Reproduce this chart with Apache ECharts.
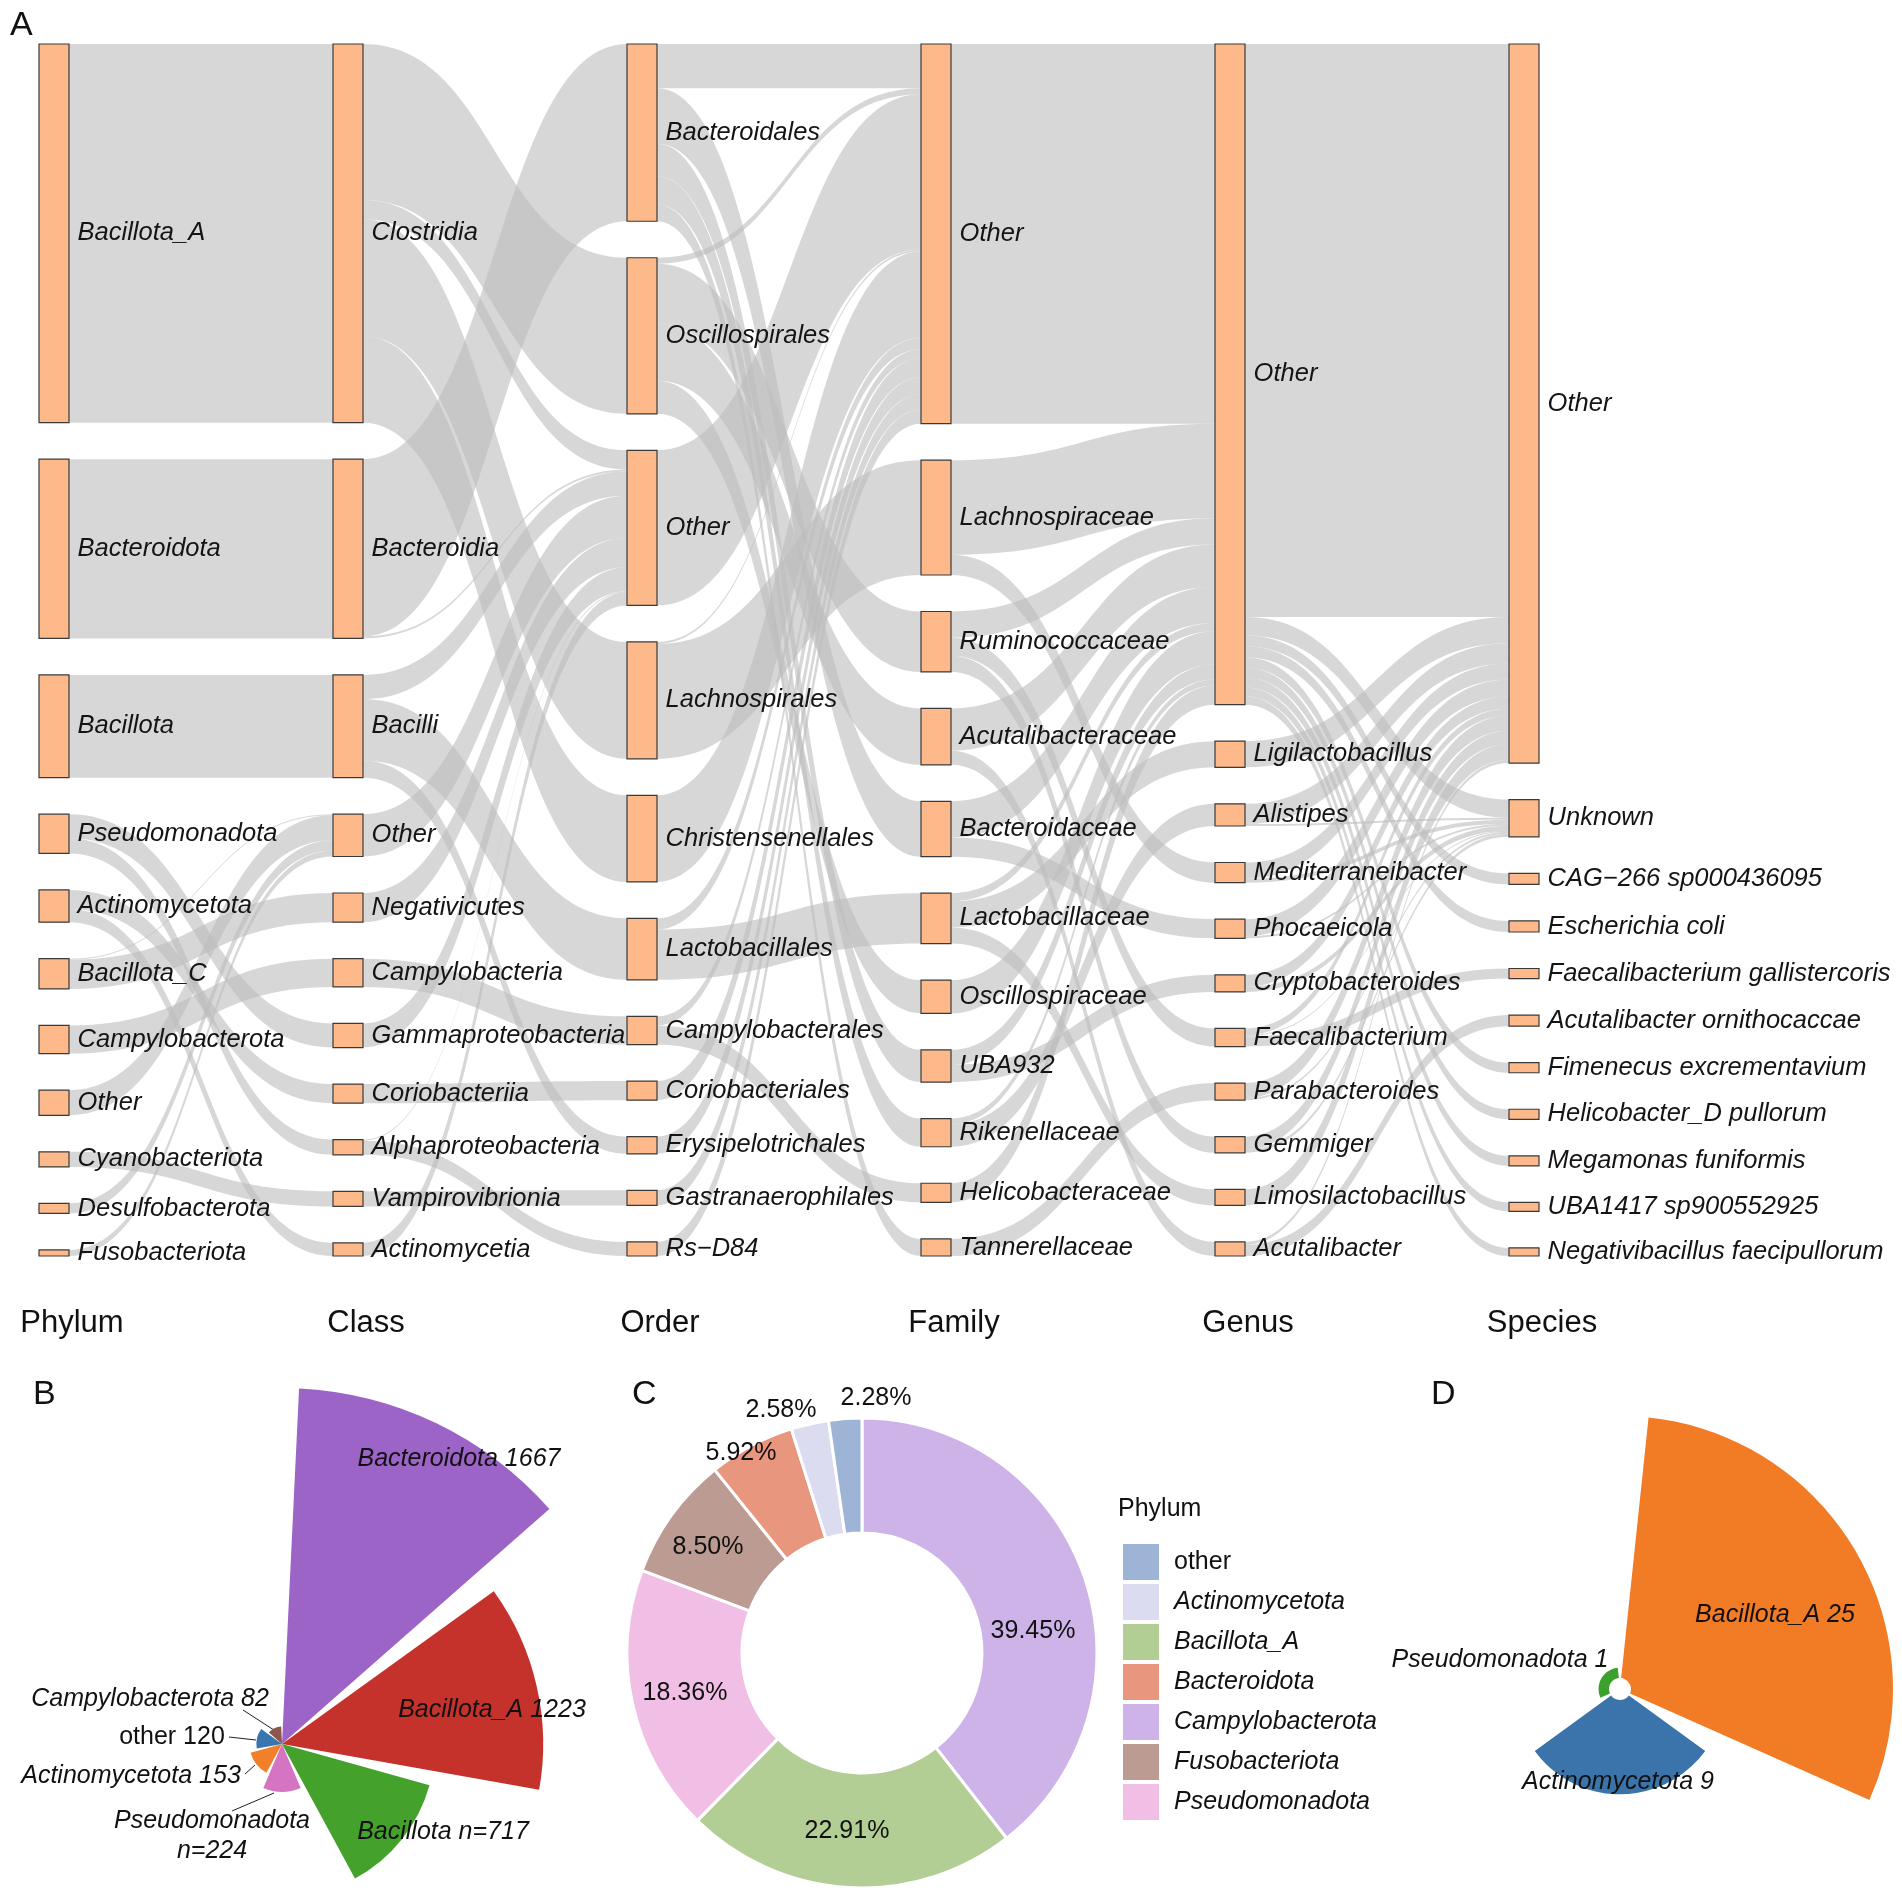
<!DOCTYPE html>
<html><head><meta charset="utf-8">
<script src="https://cdn.jsdelivr.net/npm/echarts@6/dist/echarts.min.js"></script>
<style>html,body{margin:0;padding:0;background:#fff}#c{width:1902px;height:1897px}</style>
</head><body><div id="c"></div>
<script>
// ---------------- DATA ----------------
const levels = ['Phylum','Class','Order','Family','Genus','Species'];
const phylumNodes = ['Bacillota_A','Bacteroidota','Bacillota','Pseudomonadota','Actinomycetota','Bacillota_C','Campylobacterota','Other','Cyanobacteriota','Desulfobacterota','Fusobacteriota'];
const classNodes = ['Clostridia','Bacteroidia','Bacilli','Other','Negativicutes','Campylobacteria','Gammaproteobacteria','Coriobacteriia','Alphaproteobacteria','Vampirovibrionia','Actinomycetia'];
const orderNodes = ['Bacteroidales','Oscillospirales','Other','Lachnospirales','Christensenellales','Lactobacillales','Campylobacterales','Coriobacteriales','Erysipelotrichales','Gastranaerophilales','Rs\u2212D84'];
const familyNodes = ['Other','Lachnospiraceae','Ruminococcaceae','Acutalibacteraceae','Bacteroidaceae','Lactobacillaceae','Oscillospiraceae','UBA932','Rikenellaceae','Helicobacteraceae','Tannerellaceae'];
const genusNodes = ['Other','Ligilactobacillus','Alistipes','Mediterraneibacter','Phocaeicola','Cryptobacteroides','Faecalibacterium','Parabacteroides','Gemmiger','Limosilactobacillus','Acutalibacter'];
const speciesNodes = ['Other','Unknown','CAG\u2212266 sp000436095','Escherichia coli','Faecalibacterium gallistercoris','Acutalibacter ornithocaccae','Fimenecus excrementavium','Helicobacter_D pullorum','Megamonas funiformis','UBA1417 sp900552925','Negativibacillus faecipullorum'];

const phylumToClass = [
  ['Bacillota_A','Clostridia',376],['Bacteroidota','Bacteroidia',178],['Bacillota','Bacilli',102],
  ['Pseudomonadota','Gammaproteobacteria',24],['Pseudomonadota','Alphaproteobacteria',15],
  ['Actinomycetota','Coriobacteriia',19],['Actinomycetota','Actinomycetia',13],
  ['Bacillota_C','Other',1],['Bacillota_C','Negativicutes',29],['Campylobacterota','Campylobacteria',28],
  ['Other','Other',25],['Cyanobacteriota','Vampirovibrionia',15],['Desulfobacterota','Other',10],['Fusobacteriota','Other',6]
];
const classToOrder = [
  ['Clostridia','Oscillospirales',155],['Clostridia','Other',19],['Clostridia','Lachnospirales',116],['Clostridia','Christensenellales',86],
  ['Bacteroidia','Bacteroidales',176],['Bacteroidia','Other',2],
  ['Bacilli','Other',24],['Bacilli','Lactobacillales',61],['Bacilli','Erysipelotrichales',17],
  ['Other','Other',42],['Negativicutes','Other',29],['Campylobacteria','Campylobacterales',28],
  ['Gammaproteobacteria','Other',24],['Coriobacteriia','Coriobacteriales',19],
  ['Alphaproteobacteria','Other',1],['Alphaproteobacteria','Rs\u2212D84',14],
  ['Vampirovibrionia','Gastranaerophilales',15],['Actinomycetia','Other',13]
];
const orderToFamily = [
  ['Bacteroidales','Other',44],['Bacteroidales','Bacteroidaceae',55],['Bacteroidales','UBA932',32],['Bacteroidales','Rikenellaceae',28],['Bacteroidales','Tannerellaceae',17],
  ['Oscillospirales','Other',6],['Oscillospirales','Ruminococcaceae',60],['Oscillospirales','Acutalibacteraceae',56],['Oscillospirales','Oscillospiraceae',33],
  ['Other','Other',154],['Lachnospirales','Other',2],['Lachnospirales','Lachnospiraceae',114],
  ['Christensenellales','Other',86],['Lactobacillales','Other',11],['Lactobacillales','Lactobacillaceae',50],
  ['Campylobacterales','Other',9],['Campylobacterales','Helicobacteraceae',19],
  ['Coriobacteriales','Other',19],['Erysipelotrichales','Other',17],['Gastranaerophilales','Other',15],['Rs\u2212D84','Other',14]
];
const familyToGenus = [
  ['Other','Other',377],['Lachnospiraceae','Other',94],['Lachnospiraceae','Mediterraneibacter',20],
  ['Ruminococcaceae','Other',26],['Ruminococcaceae','Faecalibacterium',18],['Ruminococcaceae','Gemmiger',16],
  ['Acutalibacteraceae','Other',42],['Acutalibacteraceae','Acutalibacter',14],
  ['Bacteroidaceae','Other',36],['Bacteroidaceae','Phocaeicola',19],
  ['Lactobacillaceae','Other',8],['Lactobacillaceae','Ligilactobacillus',26],['Lactobacillaceae','Limosilactobacillus',16],
  ['Oscillospiraceae','Other',33],['UBA932','Other',15],['UBA932','Cryptobacteroides',17],
  ['Rikenellaceae','Other',6],['Rikenellaceae','Alistipes',22],['Helicobacteraceae','Other',19],['Tannerellaceae','Parabacteroides',17]
];
const genusToSpecies = [
  ['Other','Other',569],['Other','Unknown',18],['Other','CAG\u2212266 sp000436095',11],['Other','Escherichia coli',11],
  ['Other','Fimenecus excrementavium',10],['Other','Helicobacter_D pullorum',10],['Other','Megamonas funiformis',10],
  ['Other','UBA1417 sp900552925',9],['Other','Negativibacillus faecipullorum',8],
  ['Ligilactobacillus','Other',26],['Alistipes','Other',20],['Alistipes','Unknown',2],
  ['Mediterraneibacter','Other',16],['Mediterraneibacter','Unknown',4],['Phocaeicola','Other',17],['Phocaeicola','Unknown',2],
  ['Cryptobacteroides','Other',12],['Cryptobacteroides','Unknown',5],
  ['Faecalibacterium','Other',7],['Faecalibacterium','Unknown',1],['Faecalibacterium','Faecalibacterium gallistercoris',10],
  ['Parabacteroides','Other',15],['Parabacteroides','Unknown',2],['Gemmiger','Other',13],['Gemmiger','Unknown',3],
  ['Limosilactobacillus','Other',16],['Acutalibacter','Other',3],['Acutalibacter','Acutalibacter ornithocaccae',11]
];

// Panel B
const bNames = ['Bacteroidota','Bacillota_A','Bacillota','Pseudomonadota','Actinomycetota','other','Campylobacterota'];
const bValues = [1667,1223,717,224,153,120,82];
const bLabelTemplates = ['{n} {v}','{n} {v}','{n} n={v}','{n}\nn={v}','{n} {v}','{n} {v}','{n} {v}'];
// Panel C
const cNames = ['Campylobacterota','Bacillota_A','Pseudomonadota','Fusobacteriota','Bacteroidota','Actinomycetota','other'];
const cValues = [39.45,22.91,18.36,8.50,5.92,2.58,2.28];
const cLegendOrder = ['other','Actinomycetota','Bacillota_A','Bacteroidota','Campylobacterota','Fusobacteriota','Pseudomonadota'];
const cLegendTitle = 'Phylum';
// Panel D
const dNames = ['Bacillota_A','Actinomycetota','Pseudomonadota'];
const dValues = [25,9,1];

// ---------------- STYLE / LAYOUT ----------------
const FONT = 'Liberation Sans';
const bColors = ['#9B64C6','#C5312B','#44A12C','#D674C4','#F2802A','#3976B0','#8C564B'];
const cColors = ['#CDB3E8','#B2CE94','#F1BFE6','#BC9B92','#E9967F','#DCDCF0','#9EB4D6'];
const dColors = ['#F27B25','#3A74AA','#3CA02D'];

const bLabelPos = [[459,1459],[492,1710],[443,1832],[212,1836],[131,1776],[172,1737],[150,1699]];
const bLeader = [null,null,null,[[232,1811],[274,1793]],[[245,1774],[255,1765]],[[229,1737],[256,1740]],[[243,1710],[277,1732]]];
const cLabelPos = [[1033,1631],[847,1831],[685,1693],[708,1547],[741,1453],[781,1410],[876,1398]];
const dLabelPos = [[1775,1615],[1618,1782],[1500,1660]];

const SK = {left:39, top:44, width:1500, height:1212, nodeWidth:30, gap:36.5};
const colStep = (SK.width - SK.nodeWidth) / (levels.length - 1);

// ---------------- BUILD ----------------
const columns = [phylumNodes, classNodes, orderNodes, familyNodes, genusNodes, speciesNodes];
const linkSets = [phylumToClass, classToOrder, orderToFamily, familyToGenus, genusToSpecies];
const key = (lvl, n) => levels[lvl] + '|' + n;
const skNodes = [];
columns.forEach((col, lvl) => col.forEach(n => skNodes.push({name: key(lvl, n), depth: lvl})));
const skLinks = [];
linkSets.forEach((set, lvl) => set.forEach(([s, t, v]) => skLinks.push({source: key(lvl, s), target: key(lvl + 1, t), value: v})));

const bData = bNames.map((n, i) => ({
  name: n, value: bValues[i],
  itemStyle: {color: bColors[i]},
  label: {fontStyle: n === 'other' ? 'normal' : 'italic'},
  labelLine: {show: !!bLeader[i]}
}));
const bText = bNames.map((n, i) => bLabelTemplates[i].replace('{n}', n).replace('{v}', bValues[i]));
const cData = cNames.map((n, i) => ({name: n, value: cValues[i], itemStyle: {color: cColors[i]}}));
const dData = dNames.map((n, i) => ({name: n, value: dValues[i], itemStyle: {color: dColors[i]}}));

const pieLabelBase = {show: true, position: 'outside', width: 420, fontSize: 25, fontFamily: FONT, color: '#111'};

const graphics = [];
const letter = (t, x, y) => graphics.push({type: 'text', x: x, y: y, style: {text: t, fontSize: 34, fontFamily: FONT, fill: '#111', textVerticalAlign: 'middle'}, silent: true});
letter('A', 10, 26); letter('B', 33, 1395); letter('C', 632, 1395); letter('D', 1431, 1395);
levels.forEach((lv, i) => graphics.push({
  type: 'text', x: SK.left + SK.nodeWidth / 2 + 18 + i * colStep, y: 1323,
  style: {text: lv, fontSize: 31, fontFamily: FONT, fill: '#111', textAlign: 'center', textVerticalAlign: 'middle'}, silent: true
}));
graphics.push({type: 'text', x: 1118, y: 1509, style: {text: cLegendTitle, fontSize: 25, fontFamily: FONT, fill: '#111', textVerticalAlign: 'middle'}, silent: true});

const option = {
  animation: false,
  backgroundColor: '#fff',
  textStyle: {fontFamily: FONT},
  legend: {
    orient: 'vertical', left: 1118, top: 1539, itemWidth: 36, itemHeight: 36, itemGap: 4, icon: 'rect',
    selectedMode: false, itemStyle: {borderWidth: 0},
    textStyle: {fontSize: 25, fontStyle: 'italic', fontFamily: FONT, color: '#111', padding: [0, 0, 0, 10]},
    data: cLegendOrder.map(n => n === 'other' ? {name: n, textStyle: {fontStyle: 'normal'}} : {name: n})
  },
  graphic: graphics,
  series: [
    {
      type: 'pie', center: [862, 1653], radius: [120, 235], startAngle: 90, clockwise: true,
      silent: true, emphasis: {disabled: true}, avoidLabelOverlap: false,
      itemStyle: {borderColor: '#fff', borderWidth: 3},
      label: Object.assign({}, pieLabelBase, {formatter: p => p.value.toFixed(2) + '%'}),
      labelLine: {show: false},
      labelLayout: p => ({x: cLabelPos[p.dataIndex][0], y: cLabelPos[p.dataIndex][1], align: 'center', verticalAlign: 'middle'}),
      data: cData
    },
    {
      type: 'pie', center: [282, 1744], radius: [0, 356], roseType: 'area', startAngle: 90, clockwise: true, padAngle: 5.5,
      silent: true, emphasis: {disabled: true}, avoidLabelOverlap: false,
      label: Object.assign({}, pieLabelBase, {fontStyle: 'italic', lineHeight: 30, formatter: p => bText[p.dataIndex]}),
      labelLine: {show: true, lineStyle: {color: '#222', width: 1}},
      labelLayout: p => {
        const i = p.dataIndex;
        const o = {x: bLabelPos[i][0], y: bLabelPos[i][1], align: 'center', verticalAlign: 'middle'};
        if (bLeader[i]) o.labelLinePoints = [bLeader[i][0], bLeader[i][0], bLeader[i][1]];
        return o;
      },
      data: bData
    },
    {
      type: 'pie', center: [1620, 1689], radius: [11, 273], roseType: 'area', startAngle: 90, clockwise: true, padAngle: 12,
      silent: true, emphasis: {disabled: true}, avoidLabelOverlap: false,
      label: Object.assign({}, pieLabelBase, {fontStyle: 'italic', formatter: p => p.name + ' ' + p.value}),
      labelLine: {show: false},
      labelLayout: p => ({x: dLabelPos[p.dataIndex][0], y: dLabelPos[p.dataIndex][1], align: 'center', verticalAlign: 'middle'}),
      data: dData
    },
    {
      type: 'sankey', left: SK.left, top: SK.top, width: SK.width, height: SK.height,
      nodeWidth: SK.nodeWidth, nodeGap: SK.gap, layoutIterations: 0, nodeAlign: 'left', draggable: false,
      silent: true, emphasis: {disabled: true},
      itemStyle: {color: '#FDB98A', borderColor: '#3a3a3a', borderWidth: 1.2},
      lineStyle: {color: '#bcbcbc', opacity: 0.6, curveness: 0.5},
      label: {position: 'right', distance: 8, fontSize: 25.5, fontStyle: 'italic', fontFamily: FONT, color: '#141414',
              formatter: p => p.name.split('|')[1]},
      data: skNodes, links: skLinks
    }
  ]
};
const chart = echarts.init(document.getElementById('c'), null, {renderer: 'canvas'});
chart.setOption(option);
</script></body></html>
